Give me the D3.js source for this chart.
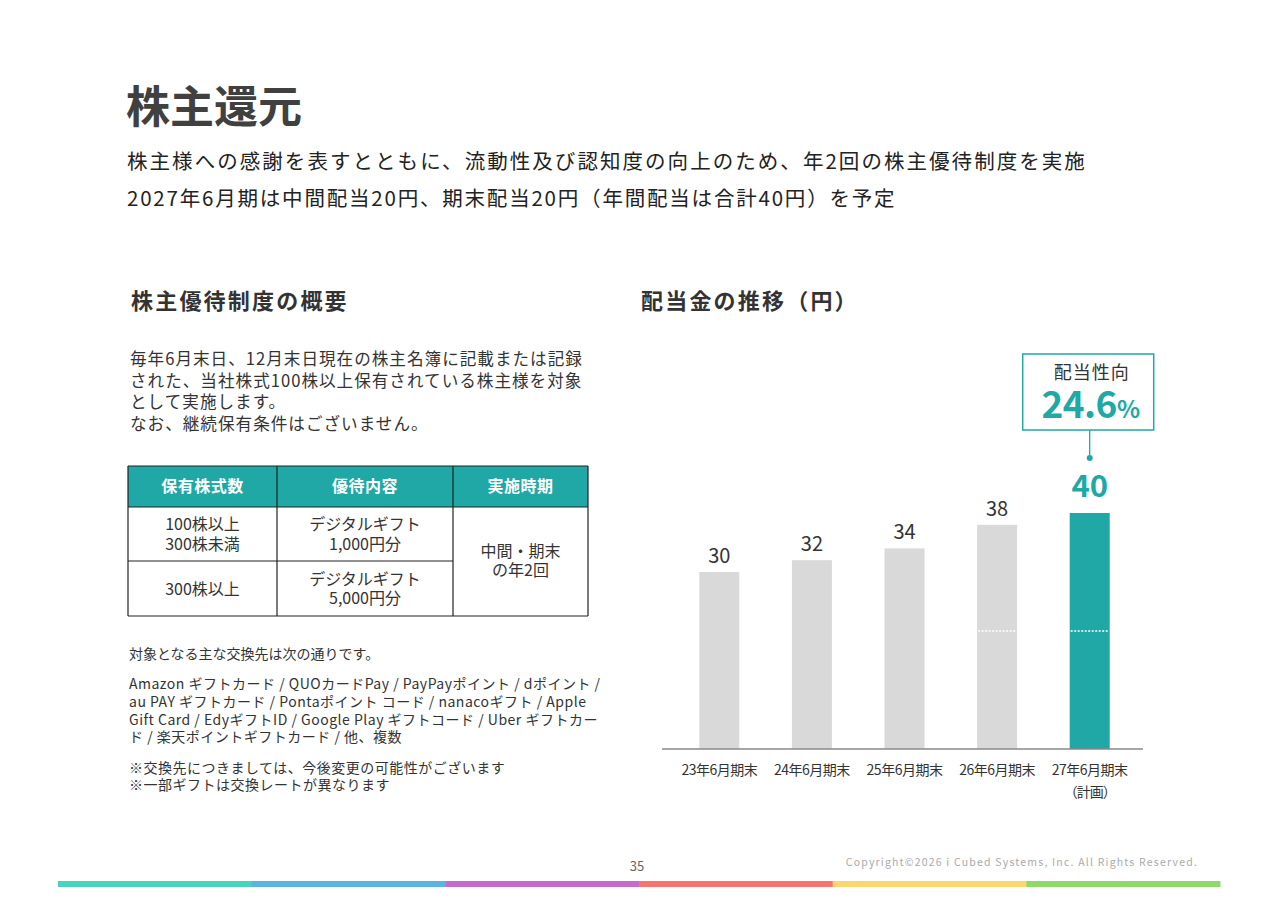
<!DOCTYPE html>
<html>
<head>
<meta charset="utf-8">
<script src="https://cdn.jsdelivr.net/npm/d3@7"></script>
<style>
  body { margin: 0; background: #fff; }
  svg { display: block; font-family: "Noto Sans CJK JP", "Noto Sans", sans-serif; }
</style>
</head>
<body>
<svg id="page" width="1280" height="905"></svg>
<script>
// chart data
const categories = ["23年6月期末", "24年6月期末", "25年6月期末", "26年6月期末", "27年6月期末"];
const subLabels = ["", "", "", "", "（計画）"];
const dividends = [30, 32, 34, 38, 40];
const interim = [null, null, null, 20, 20];
const payoutLabel = "配当性向";
const payoutRatio = "24.6";

// texts
const title = "株主還元";
const leadLines = [
  "株主様への感謝を表すとともに、流動性及び認知度の向上のため、年2回の株主優待制度を実施",
  "2027年6月期は中間配当20円、期末配当20円（年間配当は合計40円）を予定"
];
const leftHeading = "株主優待制度の概要";
const rightHeading = "配当金の推移（円）";
const introLines = [
  "毎年6月末日、12月末日現在の株主名簿に記載または記録",
  "された、当社株式100株以上保有されている株主様を対象",
  "として実施します。",
  "なお、継続保有条件はございません。"
];
const tableHeader = ["保有株式数", "優待内容", "実施時期"];
const tableHoldings = [["100株以上", "300株未満"], ["300株以上"]];
const tableBenefits = [["デジタルギフト", "1,000円分"], ["デジタルギフト", "5,000円分"]];
const tableTiming = ["中間・期末", "の年2回"];
const noteHead = "対象となる主な交換先は次の通りです。";
const noteLines = [
  "Amazon ギフトカード / QUOカードPay / PayPayポイント / dポイント /",
  "au PAY ギフトカード / Pontaポイント コード / nanacoギフト / Apple",
  "Gift Card / EdyギフトID / Google Play ギフトコード / Uber ギフトカー",
  "ド / 楽天ポイントギフトカード / 他、複数"
];
const cautionLines = [
  "※交換先につきましては、今後変更の可能性がございます",
  "※一部ギフトは交換レートが異なります"
];
const pageNumber = "35";
const copyright = "Copyright©2026 i Cubed Systems, Inc. All Rights Reserved.";
const stripeColors = ["#48d3c1", "#5ab3e0", "#c56bcb", "#f7746f", "#fbd86f", "#8fd86a"];

const teal = "#1fa8a5";
const ink = "#333333";

var svg = d3.select("#page");

// header
svg.append("text")
   .attr("x", 126).attr("y", 123)
   .attr("font-size", 44).attr("font-weight", 700)
   .attr("fill", "#404040")
   .text(title);

svg.selectAll(".lead")
   .data(leadLines)
   .enter().append("text")
   .attr("class", "lead")
   .attr("x", 127)
   .attr("y", (d, i) => 169 + i * 37)
   .attr("font-size", 20.5)
   .attr("letter-spacing", (d, i) => i === 0 ? 2.05 : 1.8)
   .attr("fill", "#222")
   .text(d => d);

svg.append("text")
   .attr("x", 131).attr("y", 309)
   .attr("font-size", 22).attr("font-weight", 700)
   .attr("letter-spacing", 2.2)
   .attr("fill", ink)
   .text(leftHeading);

svg.append("text")
   .attr("x", 641).attr("y", 309)
   .attr("font-size", 22).attr("font-weight", 700)
   .attr("letter-spacing", 2.2)
   .attr("fill", ink)
   .text(rightHeading);

// intro paragraph
svg.selectAll(".intro")
   .data(introLines)
   .enter().append("text")
   .attr("class", "intro")
   .attr("x", 130)
   .attr("y", (d, i) => 365 + i * 21.6)
   .attr("font-size", 16.6)
   .attr("letter-spacing", 1)
   .attr("fill", ink)
   .text(d => d);

// table
var tbl = { x0: 128, x1: 277, x2: 453, x3: 588, y0: 466, y1: 507, y2: 561, y3: 616 };
var tg = svg.append("g");
tg.append("rect")
  .attr("x", tbl.x0).attr("y", tbl.y0)
  .attr("width", tbl.x3 - tbl.x0).attr("height", tbl.y1 - tbl.y0)
  .attr("fill", teal);
var colMid = [(tbl.x0 + tbl.x1) / 2, (tbl.x1 + tbl.x2) / 2, (tbl.x2 + tbl.x3) / 2];
tg.selectAll(".th")
  .data(tableHeader)
  .enter().append("text")
  .attr("x", (d, i) => colMid[i])
  .attr("y", 492)
  .attr("text-anchor", "middle")
  .attr("font-size", 16).attr("font-weight", 700)
  .attr("letter-spacing", 0.5)
  .attr("fill", "#fff")
  .text(d => d);

var lines = [
  [tbl.x0, tbl.y0, tbl.x3, tbl.y0], [tbl.x0, tbl.y3, tbl.x3, tbl.y3],
  [tbl.x0, tbl.y1, tbl.x3, tbl.y1], [tbl.x0, tbl.y2, tbl.x2, tbl.y2],
  [tbl.x0, tbl.y0, tbl.x0, tbl.y3], [tbl.x1, tbl.y0, tbl.x1, tbl.y3],
  [tbl.x2, tbl.y0, tbl.x2, tbl.y3], [tbl.x3, tbl.y0, tbl.x3, tbl.y3]
];
tg.selectAll(".grid")
  .data(lines)
  .enter().append("line")
  .attr("x1", d => d[0]).attr("y1", d => d[1])
  .attr("x2", d => d[2]).attr("y2", d => d[3])
  .attr("stroke", "#222").attr("stroke-width", 1.2);

function cellText(lineArr, cx, cy, lh) {
  var top = cy - (lineArr.length - 1) * lh / 2;
  lineArr.forEach(function(t, i) {
    tg.append("text")
      .attr("x", cx).attr("y", top + i * lh + 6)
      .attr("text-anchor", "middle")
      .attr("font-size", 16)
      .attr("fill", ink)
      .text(t);
  });
}
var rowMid = [(tbl.y1 + tbl.y2) / 2, (tbl.y2 + tbl.y3) / 2];
tableHoldings.forEach((r, i) => cellText(r, colMid[0], rowMid[i], 19.5));
tableBenefits.forEach((r, i) => cellText(r, colMid[1], rowMid[i], 19.5));
cellText(tableTiming, colMid[2], (tbl.y1 + tbl.y3) / 2 - 1, 19.5);

// notes
svg.append("text")
   .attr("x", 129).attr("y", 659)
   .attr("font-size", 14)
   .attr("fill", ink)
   .text(noteHead);

svg.selectAll(".note")
   .data(noteLines)
   .enter().append("text")
   .attr("class", "note")
   .attr("x", 129)
   .attr("y", (d, i) => 689 + i * 17.8)
   .attr("font-size", 14)
   .attr("letter-spacing", 0.5)
   .attr("fill", ink)
   .text(d => d);

svg.selectAll(".caution")
   .data(cautionLines)
   .enter().append("text")
   .attr("class", "caution")
   .attr("x", 129)
   .attr("y", (d, i) => 773 + i * 17)
   .attr("font-size", 14)
   .attr("letter-spacing", 0.5)
   .attr("fill", ink)
   .text(d => d);

// bar chart
var xscale = d3.scaleBand()
               .domain(categories)
               .range([673, 1136])
               .paddingInner(0.568)
               .paddingOuter(0.284);

var yscale = d3.scaleLinear()
               .domain([0, 40])
               .range([749, 513]);

var last = categories.length - 1;
var chart = svg.append("g");

chart.selectAll(".bar")
     .data(dividends)
     .enter().append("rect")
     .attr("class", "bar")
     .attr("x", (d, i) => xscale(categories[i]))
     .attr("y", d => yscale(d))
     .attr("width", xscale.bandwidth())
     .attr("height", d => yscale(0) - yscale(d))
     .attr("fill", (d, i) => i === last ? teal : "#d9d9d9");

// interim / year-end split marks
interim.forEach(function(v, i) {
  if (v === null) return;
  chart.append("line")
       .attr("x1", xscale(categories[i]) + 1)
       .attr("x2", xscale(categories[i]) + xscale.bandwidth() - 1)
       .attr("y1", yscale(v)).attr("y2", yscale(v))
       .attr("stroke", "#fff").attr("stroke-width", 1.3)
       .attr("stroke-dasharray", "2,1.5");
});

chart.selectAll(".val")
     .data(dividends)
     .enter().append("text")
     .attr("x", (d, i) => xscale(categories[i]) + xscale.bandwidth() / 2)
     .attr("y", (d, i) => yscale(d) - (i === last ? 16 : 9))
     .attr("text-anchor", "middle")
     .attr("font-size", (d, i) => i === last ? 31 : 20)
     .attr("font-weight", (d, i) => i === last ? 700 : 400)
     .attr("fill", (d, i) => i === last ? teal : ink)
     .text(d => d);

var axis = d3.axisBottom(xscale).tickSize(0).tickPadding(0);
var axis_g = chart.append("g")
                  .attr("transform", "translate(0," + yscale(0) + ")")
                  .call(axis);
axis_g.select(".domain").remove();
axis_g.selectAll(".tick text")
      .attr("y", 26)
      .attr("dy", null)
      .attr("font-size", 14)
      .attr("letter-spacing", -0.5)
      .attr("font-family", "\"Noto Sans CJK JP\", sans-serif")
      .attr("fill", ink);
axis_g.selectAll(".tick").each(function(d, i) {
  if (subLabels[i]) {
    d3.select(this).append("text")
      .attr("y", 48)
      .attr("fill", ink)
      .attr("font-size", 14)
      .attr("letter-spacing", -1)
      .attr("text-anchor", "middle")
      .attr("font-family", "\"Noto Sans CJK JP\", sans-serif")
      .text(subLabels[i]);
  }
});

chart.append("line")
     .attr("x1", 662).attr("x2", 1143)
     .attr("y1", yscale(0)).attr("y2", yscale(0))
     .attr("stroke", "#8a8a8a").attr("stroke-width", 1.5);

// payout ratio callout
var cx = xscale(categories[last]) + xscale.bandwidth() / 2;
chart.append("rect")
     .attr("x", cx - 67).attr("y", 354)
     .attr("width", 131).attr("height", 76)
     .attr("fill", "#fff")
     .attr("stroke", teal).attr("stroke-width", 1.5);
chart.append("line")
     .attr("x1", cx).attr("x2", cx)
     .attr("y1", 430).attr("y2", 458)
     .attr("stroke", teal).attr("stroke-width", 1.3);
chart.append("circle")
     .attr("cx", cx).attr("cy", 458).attr("r", 3)
     .attr("fill", teal);
chart.append("text")
     .attr("x", cx + 2).attr("y", 379)
     .attr("text-anchor", "middle")
     .attr("font-size", 18)
     .attr("letter-spacing", 1)
     .attr("fill", ink)
     .text(payoutLabel);
var pr = chart.append("text")
              .attr("x", cx + 1).attr("y", 418)
              .attr("text-anchor", "middle")
              .attr("font-weight", 700)
              .attr("fill", teal);
pr.append("tspan").attr("font-size", 37).attr("letter-spacing", -0.5).text(payoutRatio);
pr.append("tspan").attr("font-size", 24).text("%");

// footer
svg.append("text")
   .attr("x", 637).attr("y", 871)
   .attr("text-anchor", "middle")
   .attr("font-size", 13)
   .attr("fill", "#666")
   .text(pageNumber);
svg.append("text")
   .attr("x", 1198).attr("y", 866)
   .attr("text-anchor", "end")
   .attr("font-size", 10.5)
   .attr("letter-spacing", 1.2)
   .attr("fill", "#aaa")
   .text(copyright);

var stripe = d3.scaleBand()
               .domain(d3.range(stripeColors.length))
               .range([58, 1220]);
svg.selectAll(".stripe")
   .data(stripeColors)
   .enter().append("rect")
   .attr("x", (d, i) => stripe(i))
   .attr("y", 881)
   .attr("width", stripe.bandwidth() + 0.5)
   .attr("height", 6)
   .attr("fill", d => d);
</script>
</body>
</html>
